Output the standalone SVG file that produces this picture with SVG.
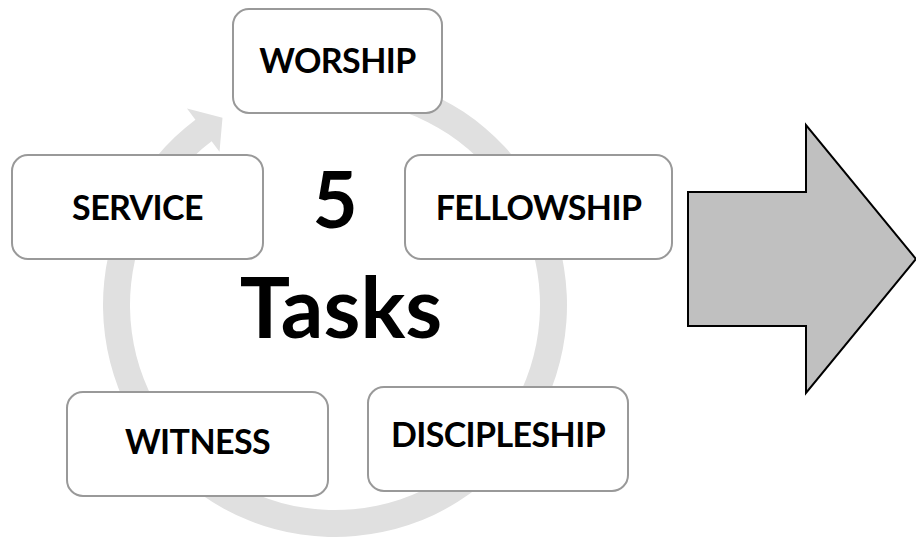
<svg xmlns="http://www.w3.org/2000/svg" width="916" height="537" viewBox="0 0 916 537">
  <style>
    .box { fill: #ffffff; stroke: #999999; stroke-width: 2; }
    .lbl { font-family: Lato, "Open Sans", sans-serif; font-weight: bold; font-size: 34px; letter-spacing: -0.6px; fill: #000000; text-anchor: middle; }
    .big { font-family: Lato, "Open Sans", sans-serif; font-weight: bold; fill: #000000; text-anchor: middle; }
  </style>
  <rect width="916" height="537" fill="#ffffff"/>
  <g id="connectors">
    <path id="cycle-arrow" d="M 335 73 A 232 232 0 1 1 195.4 119.7 L 187 108.5 L 222.5 117.7 L 219.5 151.7 L 211.6 141.3 A 205 205 0 1 0 335 100 Z" fill="#e0e0e0"/>
  </g>
  <g id="center-label">
    <text class="big" x="335" y="228" font-size="78">5</text>
    <text class="big" x="341" y="338" font-size="84">Tasks</text>
  </g>
  <g id="worship">
    <rect class="box" x="233" y="9" width="209" height="104" rx="16"/>
    <text class="lbl" x="337.5" y="73">WORSHIP</text>
  </g>
  <g id="service">
    <rect class="box" x="12" y="155" width="251" height="104" rx="16"/>
    <text class="lbl" x="137.5" y="220">SERVICE</text>
  </g>
  <g id="fellowship">
    <rect class="box" x="405" y="155" width="267" height="104" rx="16"/>
    <text class="lbl" x="538.5" y="220">FELLOWSHIP</text>
  </g>
  <g id="witness">
    <rect class="box" x="67" y="392" width="261" height="104" rx="16"/>
    <text class="lbl" x="197.5" y="454">WITNESS</text>
  </g>
  <g id="discipleship">
    <rect class="box" x="368" y="387" width="260" height="104" rx="16"/>
    <text class="lbl" x="498" y="447">DISCIPLESHIP</text>
  </g>
  <g id="big-arrow">
    <polygon points="688,192 806,192 806,125 916,259 806,393 806,326 688,326" fill="#c0c0c0" stroke="#000000" stroke-width="2" stroke-linejoin="miter"/>
  </g>
</svg>
